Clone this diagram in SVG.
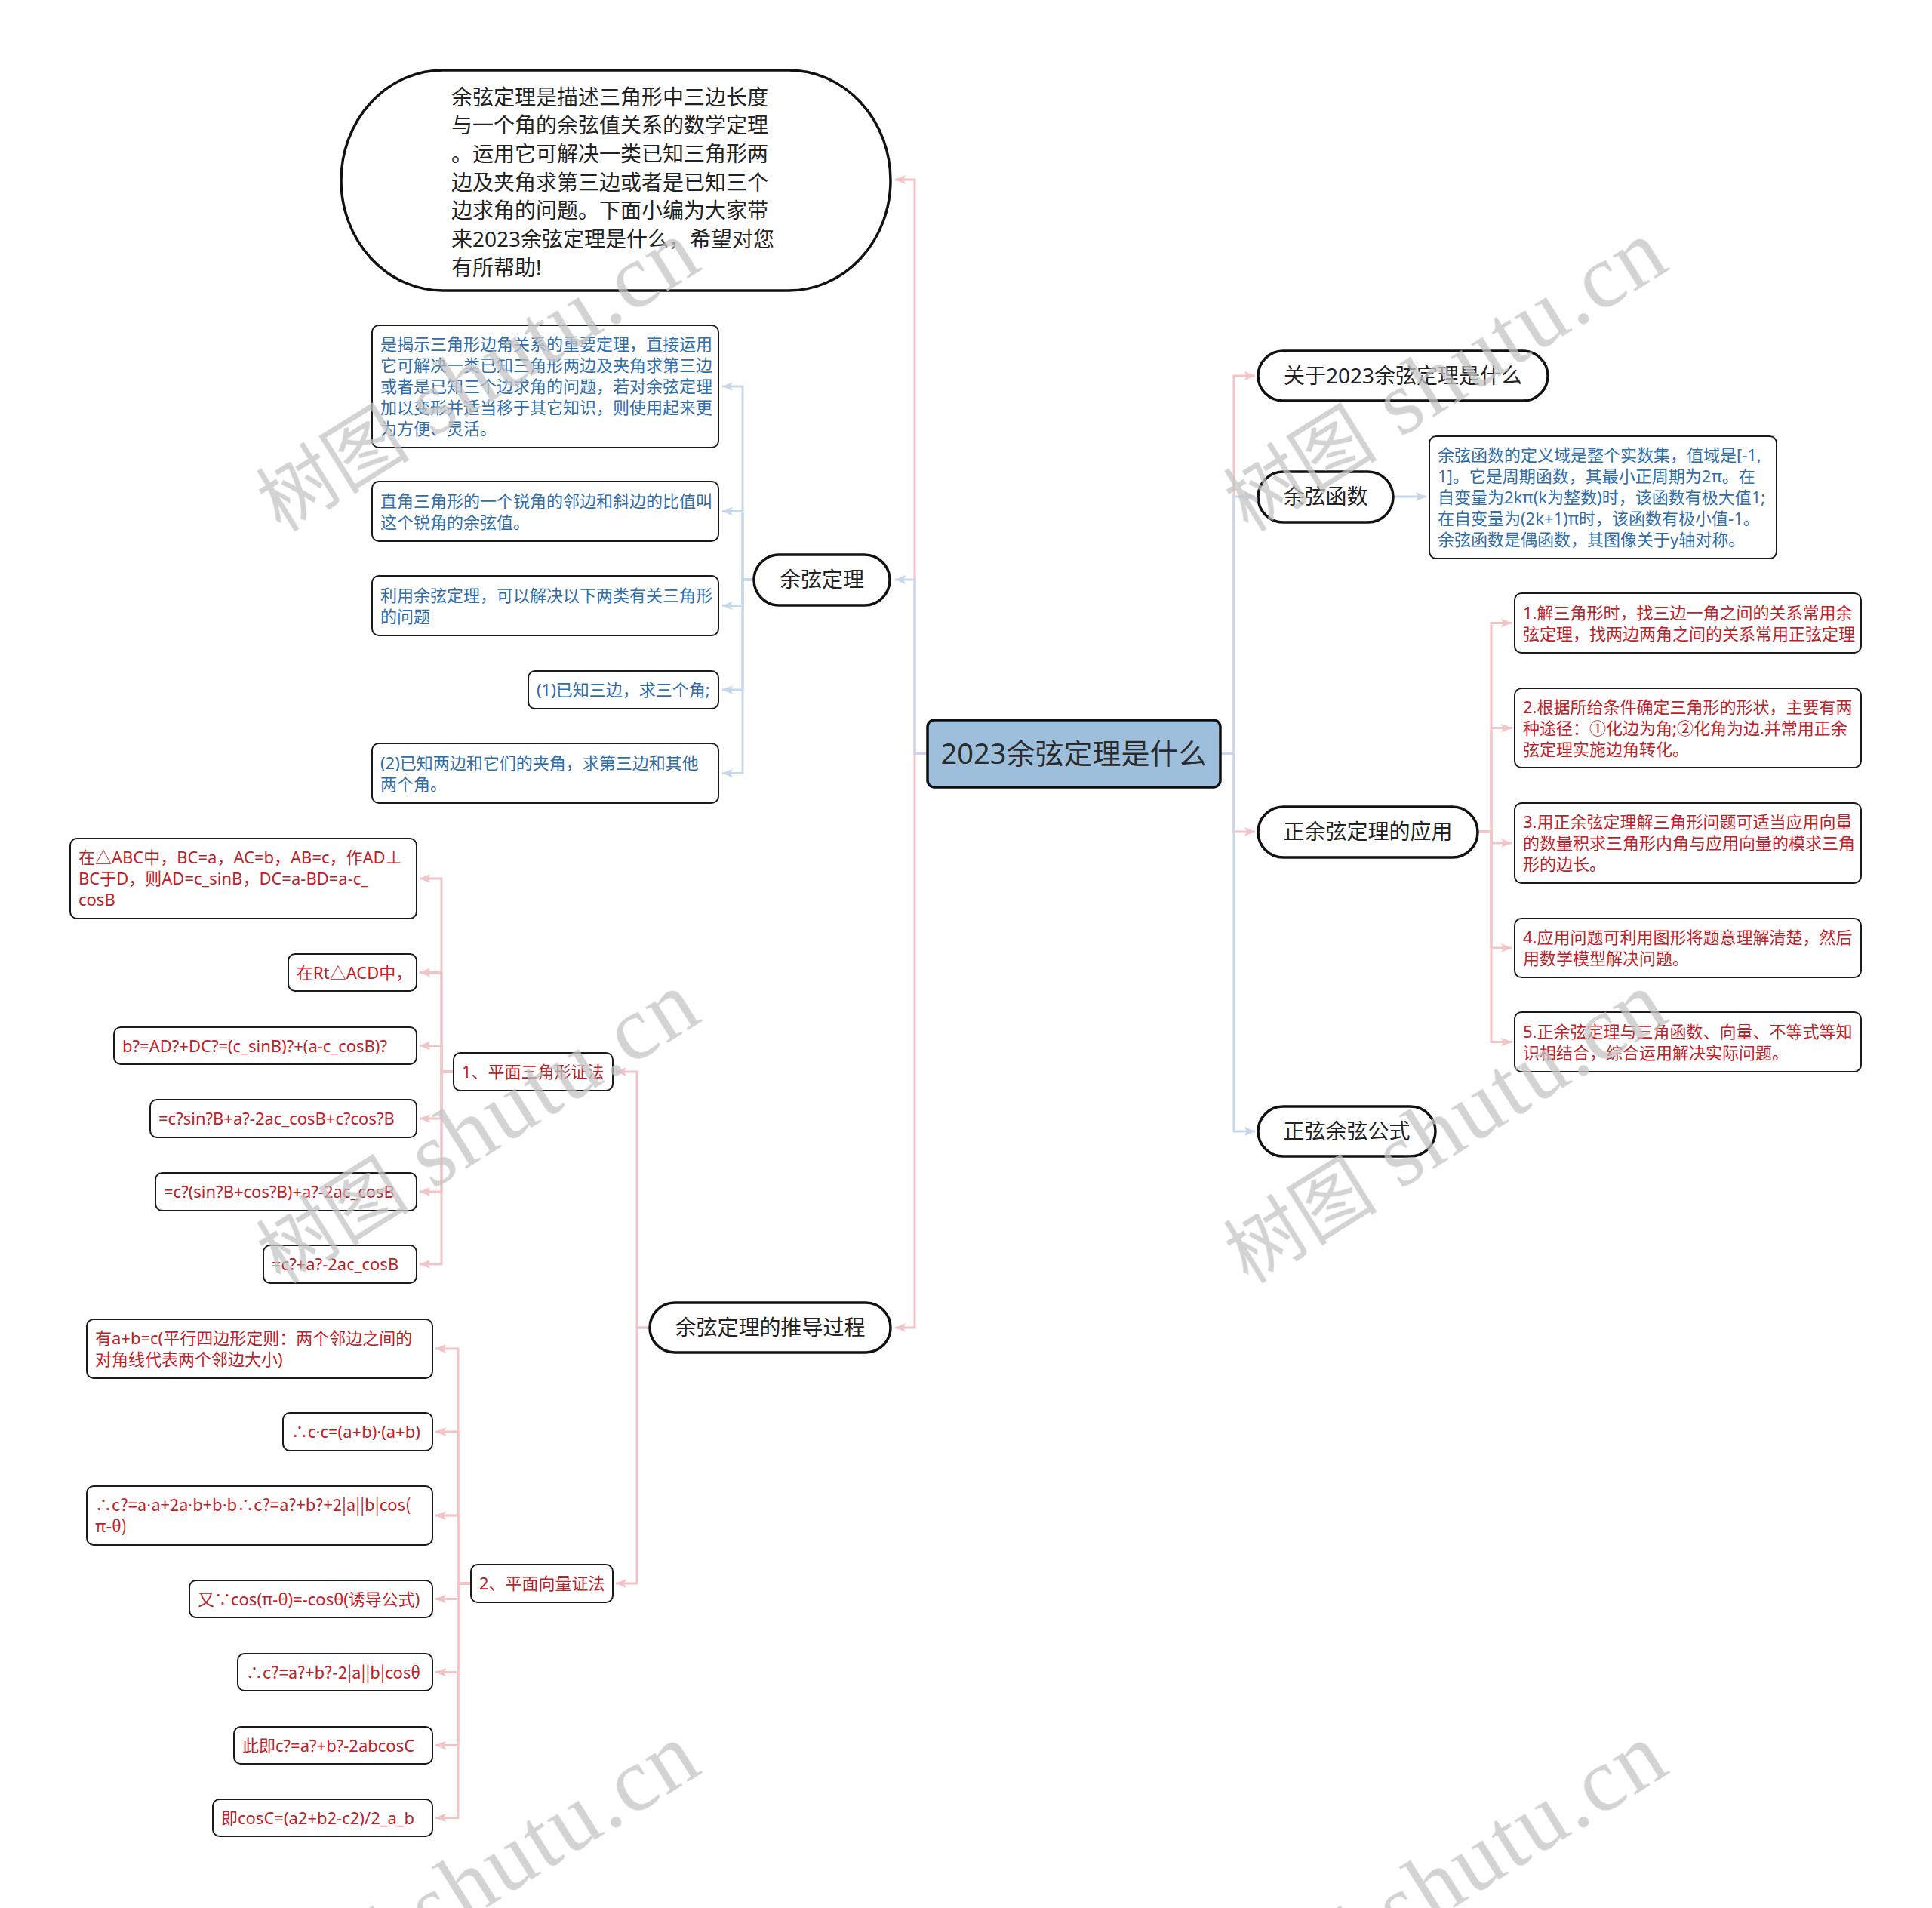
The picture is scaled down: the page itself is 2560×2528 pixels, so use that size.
<svg xmlns="http://www.w3.org/2000/svg" width="2560" height="2528" viewBox="0 0 2560 2528">
<defs>
<marker id="ap" markerUnits="userSpaceOnUse" markerWidth="16" markerHeight="14" refX="14" refY="7" orient="auto"><path d="M0,1 L14,7 L0,13 L3,7 z" fill="#f2c4c6"/></marker>
<marker id="ab" markerUnits="userSpaceOnUse" markerWidth="16" markerHeight="14" refX="14" refY="7" orient="auto"><path d="M0,1 L14,7 L0,13 L3,7 z" fill="#c7d7eb"/></marker>
<style>
text{font-family:"Noto Sans","Noto Sans CJK SC",sans-serif;}
.cjk{font-family:"Noto Sans CJK SC",sans-serif;}
.dot{font-family:"Noto Sans",sans-serif;}
.big{fill:#fff;stroke:#111;stroke-width:3.5;}
.box{fill:#fff;stroke:#1a1a1a;stroke-width:2;}
.tb{font-size:28px;fill:#222;text-anchor:middle;}
.ti{font-size:28px;fill:#222;}
.s{font-size:22px;}
.blue{fill:#2f6ead;}
.red{fill:#bd2228;}
.cp{fill:none;stroke:#f2c4c6;stroke-width:3;marker-end:url(#ap);}
.cb{fill:none;stroke:#c7d7eb;stroke-width:3;marker-end:url(#ab);}
.wm{fill:#c4c4c4;opacity:0.75;}
.wm1{font-family:"Noto Sans CJK SC",sans-serif;font-size:102px;}
.wm2{font-family:"Liberation Serif",serif;font-size:120px;letter-spacing:3px;}
</style>
</defs>
<rect width="2560" height="2528" fill="#fff"/>

<g id="connectors">
<path class="cp" d="M1229,998 H1212 V238 H1186"/>
<path class="cp" d="M1229,998 H1212 V1759 H1186"/>
<path class="cb" d="M1229,998 H1212 V768 H1186"/>
<path class="cp" d="M1617,998 H1635 V498 H1663"/>
<path class="cp" d="M1617,998 H1635 V1102 H1663"/>
<path class="cb" d="M1617,998 H1635 V658 H1663"/>
<path class="cb" d="M1617,998 H1635 V1499 H1663"/>
<path class="cb" d="M999,768 H984 V512 H957"/>
<path class="cb" d="M999,768 H984 V677.5 H957"/>
<path class="cb" d="M999,768 H984 V802.5 H957"/>
<path class="cb" d="M999,768 H984 V914 H957"/>
<path class="cb" d="M999,768 H984 V1024.5 H957"/>
<path class="cb" d="M1846,658 H1890"/>
<path class="cp" d="M1958,1102 H1976 V825.5 H2003"/>
<path class="cp" d="M1958,1102 H1976 V964.5 H2003"/>
<path class="cp" d="M1958,1102 H1976 V1117 H2003"/>
<path class="cp" d="M1958,1102 H1976 V1256 H2003"/>
<path class="cp" d="M1958,1102 H1976 V1380.5 H2003"/>
<path class="cp" d="M861,1759 H844 V1420 H816"/>
<path class="cp" d="M861,1759 H844 V2098 H816"/>
<path class="cp" d="M601,1420 H585 V1164 H556"/>
<path class="cp" d="M601,1420 H585 V1288.5 H556"/>
<path class="cp" d="M601,1420 H585 V1385.5 H556"/>
<path class="cp" d="M601,1420 H585 V1482 H556"/>
<path class="cp" d="M601,1420 H585 V1579 H556"/>
<path class="cp" d="M601,1420 H585 V1675 H556"/>
<path class="cp" d="M624,2098 H607 V1787 H577"/>
<path class="cp" d="M624,2098 H607 V1897 H577"/>
<path class="cp" d="M624,2098 H607 V2008 H577"/>
<path class="cp" d="M624,2098 H607 V2118.5 H577"/>
<path class="cp" d="M624,2098 H607 V2215.5 H577"/>
<path class="cp" d="M624,2098 H607 V2312.5 H577"/>
<path class="cp" d="M624,2098 H607 V2408.5 H577"/>
</g>

<g id="center">
<rect x="1229" y="954" width="388" height="89" rx="9" fill="#9dbfdc" stroke="#111" stroke-width="3.5"/>
<text x="1423" y="1012" style="font-size:38px;fill:#2b2b2b;text-anchor:middle">2023余弦定理是什么</text>
</g>

<g id="intro">
<rect class="big" x="452" y="93" width="728" height="292" rx="135" ry="146"/>
<text class="ti" x="598" y="138.6">余弦定理是描述三角形中三边长度</text>
<text class="ti" x="598" y="176.3">与一个角的余弦值关系的数学定理</text>
<text class="ti" x="598" y="214">。运用它可解决一类已知三角形两</text>
<text class="ti" x="598" y="251.7">边及夹角求第三边或者是已知三个</text>
<text class="ti" x="598" y="289.4">边求角的问题。下面小编为大家带</text>
<text class="ti" x="598" y="327.1">来2023余弦定理是什么，希望对您</text>
<text class="ti" x="598" y="364.8">有所帮助!</text>
</g>

<g id="yuxian-dingli">
<rect class="big" x="999" y="735" width="180" height="67" rx="33.5"/>
<text class="tb" x="1089" y="778">余弦定理</text>
</g>

<g id="tuidao">
<rect class="big" x="861" y="1726" width="319" height="66" rx="33"/>
<text class="tb" x="1020.5" y="1769">余弦定理的推导过程</text>
</g>

<g id="guanyu">
<rect class="big" x="1667" y="465" width="384" height="66" rx="33"/>
<text class="tb" x="1859" y="508">关于2023余弦定理是什么</text>
</g>

<g id="hanshu">
<rect class="big" x="1667" y="625" width="179" height="67" rx="33.5"/>
<text class="tb" x="1756.5" y="668">余弦函数</text>
</g>

<g id="yingyong">
<rect class="big" x="1667" y="1069" width="291" height="67" rx="33.5"/>
<text class="tb" x="1812.5" y="1112">正余弦定理的应用</text>
</g>

<g id="gongshi">
<rect class="big" x="1667" y="1466" width="235" height="66" rx="33"/>
<text class="tb" x="1784.5" y="1509">正弦余弦公式</text>
</g>

<g id="b1">
<rect class="box" x="493" y="431" width="459" height="162" rx="9"/>
<text class="s blue" x="504" y="464">是揭示三角形边角关系的重要定理，直接运用</text>
<text class="s blue" x="504" y="492">它可解决一类已知三角形两边及夹角求第三边</text>
<text class="s blue" x="504" y="520">或者是已知三个边求角的问题，若对余弦定理</text>
<text class="s blue" x="504" y="548">加以变形并适当移于其它知识，则使用起来更</text>
<text class="s blue" x="504" y="576">为方便、灵活。</text>
</g>
<g id="b2">
<rect class="box" x="493" y="638" width="459" height="79" rx="9"/>
<text class="s blue" x="504" y="671.5">直角三角形的一个锐角的邻边和斜边的比值叫</text>
<text class="s blue" x="504" y="699.5">这个锐角的余弦值。</text>
</g>
<g id="b3">
<rect class="box" x="493" y="763" width="459" height="79" rx="9"/>
<text class="s blue" x="504" y="796.5">利用余弦定理，可以解决以下两类有关三角形</text>
<text class="s blue" x="504" y="824.5">的问题</text>
</g>
<g id="b4">
<rect class="box" x="700" y="889" width="252" height="50" rx="9"/>
<text class="s blue" x="711" y="922">(1)已知三边，求三个角;</text>
</g>
<g id="b5">
<rect class="box" x="493" y="985" width="459" height="79" rx="9"/>
<text class="s blue" x="504" y="1018.5">(2)已知两边和它们的夹角，求第三边和其他</text>
<text class="s blue" x="504" y="1046.5">两个角。</text>
</g>

<g id="hanshu-detail">
<rect class="box" x="1894" y="578" width="460" height="162" rx="9"/>
<text class="s blue" x="1905" y="611">余弦函数的定义域是整个实数集，值域是[-1,</text>
<text class="s blue" x="1905" y="639">1]。它是周期函数，其最小正周期为2π。在</text>
<text class="s blue" x="1905" y="667">自变量为2kπ(k为整数)时，该函数有极大值1;</text>
<text class="s blue" x="1905" y="695">在自变量为(2k+1)π时，该函数有极小值-1。</text>
<text class="s blue" x="1905" y="723">余弦函数是偶函数，其图像关于y轴对称。</text>
</g>

<g id="r1">
<rect class="box" x="2007" y="786" width="459" height="79" rx="9"/>
<text class="s red" x="2018" y="819.5">1.解三角形时，找三边一角之间的关系常用余</text>
<text class="s red" x="2018" y="847.5">弦定理，找两边两角之间的关系常用正弦定理</text>
</g>
<g id="r2">
<rect class="box" x="2007" y="912" width="459" height="105" rx="9"/>
<text class="s red" x="2018" y="944.5">2.根据所给条件确定三角形的形状，主要有两</text>
<text class="s red" x="2018" y="972.5">种途径：①化边为角;②化角为边.并常用正余</text>
<text class="s red" x="2018" y="1000.5">弦定理实施边角转化。</text>
</g>
<g id="r3">
<rect class="box" x="2007" y="1064" width="459" height="106" rx="9"/>
<text class="s red" x="2018" y="1097">3.用正余弦定理解三角形问题可适当应用向量</text>
<text class="s red" x="2018" y="1125">的数量积求三角形内角与应用向量的模求三角</text>
<text class="s red" x="2018" y="1153">形的边长。</text>
</g>
<g id="r4">
<rect class="box" x="2007" y="1217" width="459" height="78" rx="9"/>
<text class="s red" x="2018" y="1250">4.应用问题可利用图形将题意理解清楚，然后</text>
<text class="s red" x="2018" y="1278">用数学模型解决问题。</text>
</g>
<g id="r5">
<rect class="box" x="2007" y="1341" width="459" height="79" rx="9"/>
<text class="s red" x="2018" y="1374.5">5.正余弦定理与三角函数、向量、不等式等知</text>
<text class="s red" x="2018" y="1402.5">识相结合，综合运用解决实际问题。</text>
</g>

<g id="m1">
<rect class="box" x="601" y="1395" width="211" height="50" rx="9"/>
<text class="s red" x="612" y="1428">1、平面三角形证法</text>
</g>
<g id="p1">
<rect class="box" x="93" y="1111" width="459" height="106" rx="9"/>
<text class="s red" x="104" y="1144">在△ABC中，BC=a，AC=b，AB=c，作AD⊥</text>
<text class="s red" x="104" y="1172">BC于D，则AD=c_sinB，DC=a-BD=a-c_</text>
<text class="s red" x="104" y="1200">cosB</text>
</g>
<g id="p2">
<rect class="box" x="382" y="1264" width="170" height="49" rx="9"/>
<text class="s red" x="393" y="1296.5">在Rt△ACD中，</text>
</g>
<g id="p3">
<rect class="box" x="151" y="1361" width="401" height="49" rx="9"/>
<text class="s red" x="162" y="1393.5">b?=AD?+DC?=(c_sinB)?+(a-c_cosB)?</text>
</g>
<g id="p4">
<rect class="box" x="199" y="1457" width="353" height="50" rx="9"/>
<text class="s red" x="210" y="1490">=c?sin?B+a?-2ac_cosB+c?cos?B</text>
</g>
<g id="p5">
<rect class="box" x="206" y="1554" width="346" height="50" rx="9"/>
<text class="s red" x="217" y="1587">=c?(sin?B+cos?B)+a?-2ac_cosB</text>
</g>
<g id="p6">
<rect class="box" x="349" y="1650" width="203" height="50" rx="9"/>
<text class="s red" x="360" y="1683">=c?+a?-2ac_cosB</text>
</g>

<g id="m2">
<rect class="box" x="624" y="2073" width="188" height="50" rx="9"/>
<text class="s red" x="635" y="2106">2、平面向量证法</text>
</g>
<g id="q1">
<rect class="box" x="115" y="1748" width="458" height="78" rx="9"/>
<text class="s red" x="126" y="1781">有a+b=c(平行四边形定则：两个邻边之间的</text>
<text class="s red" x="126" y="1809">对角线代表两个邻边大小)</text>
</g>
<g id="q2">
<rect class="box" x="375" y="1872" width="198" height="50" rx="9"/>
<text class="s red" x="386" y="1905">∴c·c=(a+b)·(a+b)</text>
</g>
<g id="q3">
<rect class="box" x="115" y="1969" width="458" height="78" rx="9"/>
<text class="s red cjk" x="126" y="2002">∴c?=a<tspan class="dot">·</tspan>a+2a<tspan class="dot">·</tspan>b+b<tspan class="dot">·</tspan>b∴c?=a?+b?+2|a||b|cos(</text>
<text class="s red cjk" x="126" y="2030">π-θ)</text>
</g>
<g id="q4">
<rect class="box" x="251" y="2094" width="322" height="49" rx="9"/>
<text class="s red" x="262" y="2126.5">又∵cos(π-θ)=-cosθ(诱导公式)</text>
</g>
<g id="q5">
<rect class="box" x="315" y="2191" width="258" height="49" rx="9"/>
<text class="s red cjk" x="326" y="2223.5">∴c?=a?+b?-2|a||b|cosθ</text>
</g>
<g id="q6">
<rect class="box" x="310" y="2288" width="263" height="49" rx="9"/>
<text class="s red" x="321" y="2320.5">此即c?=a?+b?-2abcosC</text>
</g>
<g id="q7">
<rect class="box" x="282" y="2384" width="291" height="49" rx="9"/>
<text class="s red" x="293" y="2416.5">即cosC=(a2+b2-c2)/2_a_b</text>
</g>

<g id="watermarks" class="wm">
<text transform="translate(372,706) rotate(-32)"><tspan class="wm1">树图</tspan><tspan class="wm2"> shutu.cn</tspan></text>
<text transform="translate(1654,706) rotate(-32)"><tspan class="wm1">树图</tspan><tspan class="wm2"> shutu.cn</tspan></text>
<text transform="translate(372,1702) rotate(-32)"><tspan class="wm1">树图</tspan><tspan class="wm2"> shutu.cn</tspan></text>
<text transform="translate(1654,1702) rotate(-32)"><tspan class="wm1">树图</tspan><tspan class="wm2"> shutu.cn</tspan></text>
<text transform="translate(372,2698) rotate(-32)"><tspan class="wm1">树图</tspan><tspan class="wm2"> shutu.cn</tspan></text>
<text transform="translate(1654,2698) rotate(-32)"><tspan class="wm1">树图</tspan><tspan class="wm2"> shutu.cn</tspan></text>
</g>
</svg>
